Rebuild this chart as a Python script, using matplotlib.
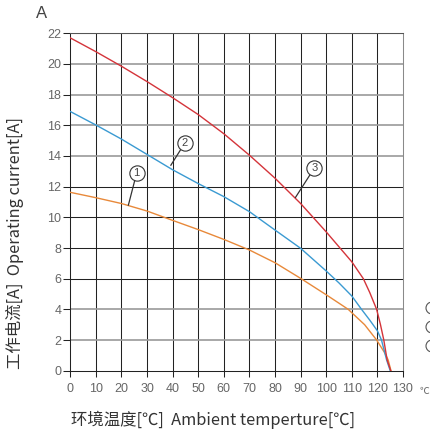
"""
Derating curves: operating current vs ambient temperature.
"""
import matplotlib
matplotlib.use("Agg")
import matplotlib.pyplot as plt
from matplotlib.patches import Circle

# --- DATA --- #
temp_1 = [0, 10, 20, 30, 40, 50, 60, 70, 80, 90, 100, 105, 108.6, 110, 115, 119.7, 122.9, 124.2, 125.3]
current_1 = [11.63, 11.28, 10.9, 10.41, 9.8, 9.2, 8.56, 7.87, 7.04, 6.02, 4.95, 4.4, 4.0, 3.78, 3.0, 2.0, 1.15, 0.7, 0.0]

temp_2 = [0, 10, 20, 30, 40, 50, 60, 70, 80, 90, 100, 105, 110, 113.8, 117, 120, 121.6, 123.6, 125.0]
current_2 = [16.9, 16.02, 15.1, 14.1, 13.1, 12.2, 11.35, 10.37, 9.17, 7.98, 6.5, 5.72, 4.87, 4.0, 3.3, 2.6, 2.0, 0.7, 0.0]

temp_3 = [0, 10, 20, 30, 40, 50, 60, 70, 80, 90, 100, 110, 114.5, 117, 119.7, 121.2, 122.5, 123.8, 125.2]
current_3 = [21.7, 20.8, 19.85, 18.85, 17.8, 16.7, 15.45, 14.05, 12.55, 10.9, 9.05, 7.1, 6.0, 5.1, 4.0, 3.0, 2.0, 0.7, 0.0]

x_ticks = list(range(0, 131, 10))
y_ticks = list(range(0, 23, 2))
gray_rows = [2, 4, 14, 16, 18, 20]

curve_labels = ["1", "2", "3"]
label_spots = [(25.9, 12.87), (44.8, 14.86), (95.3, 13.2)]
label_targets = [(22.7, 10.8), (39.3, 13.4), (88.0, 11.3)]

# --- FIGURE --- #
fig = plt.figure(figsize=(4.31, 4.30), dpi=100)
ax = fig.add_axes([70.3 / 431, 1 - 370.7 / 430, (403 - 70.3) / 431, (370.7 - 33.3) / 430])

# --- GRID --- #
for x in x_ticks[1:-1]:
    ax.axvline(x, color="#222222", lw=0.75, zorder=1)
for y in y_ticks[1:]:
    if y in gray_rows:
        ax.axhline(y, color="#9a9a9a", lw=1.2, zorder=1)
    else:
        ax.axhline(y, color="#222222", lw=0.75, zorder=1)

# --- CURVES --- #
ax.plot(temp_1, current_1, color="#e8893a", lw=1.0, zorder=3)
ax.plot(temp_2, current_2, color="#3a9ad2", lw=1.0, zorder=3)
ax.plot(temp_3, current_3, color="#d4343a", lw=1.0, zorder=3)

# --- CURVE NUMBERS --- #
for lab, (cx, cy), (tx, ty) in zip(curve_labels, label_spots, label_targets):
    ax.plot([tx, cx], [ty, cy], color="#333333", lw=0.9, zorder=4)
    ax.plot(cx, cy, "o", ms=11, mfc="white", mec="#333333", mew=0.8, zorder=5)
    ax.text(cx, cy, lab, ha="center", va="center", fontsize=8, color="#444444",
            family="Liberation Sans", zorder=6)

# --- AXES --- #
ax.set_xlim(0, 130)
ax.set_ylim(0, 22)
ax.set_xticks(x_ticks)
ax.set_yticks(y_ticks)
ax.tick_params(axis="x", direction="out", length=4.3, width=0.75, pad=4.5, color="#222222",
               labelsize=9, labelcolor="#666666")
ax.tick_params(axis="y", direction="out", length=5, width=0.75, pad=1.5, color="#222222",
               labelsize=9, labelcolor="#666666")
for lab in ax.get_xticklabels() + ax.get_yticklabels():
    lab.set_family("Liberation Sans")
ax.spines["left"].set_color("#222222")
ax.spines["bottom"].set_color("#222222")
ax.spines["top"].set_color("#555555")
ax.spines["right"].set_color("#8a8a8a")
for s in ax.spines.values():
    s.set_linewidth(0.75)

# --- TEXTS --- #
cjk = ["Noto Sans CJK SC", "DejaVu Sans"]
fig.text(42 / 431, 1 - 14 / 430, "A", ha="center", va="center", fontsize=12,
         color="#444444", family="Liberation Sans")
fig.text(213 / 431, 1 - 420 / 430, "环境温度[℃]  Ambient temperture[℃]", ha="center",
         va="center", fontsize=11.8, color="#333333", family=cjk)
fig.text(15 / 431, 1 - 243 / 430, "工作电流[A]  Operating current[A]", ha="center",
         va="center", rotation=90, fontsize=11.8, color="#333333", family=cjk)
fig.text(424 / 431, 1 - 391 / 430, "℃", ha="center", va="center", fontsize=7,
         color="#666666", family=cjk)

# --- CLIPPED MARKERS AT THE RIGHT EDGE --- #
for py in [308, 327, 346]:
    fig.add_artist(Circle((432 / 431, 1 - py / 430), 6 / 431, transform=fig.transFigure,
                          fill=False, ec="#555555", lw=0.8))

fig.savefig("out.png", dpi=100)
